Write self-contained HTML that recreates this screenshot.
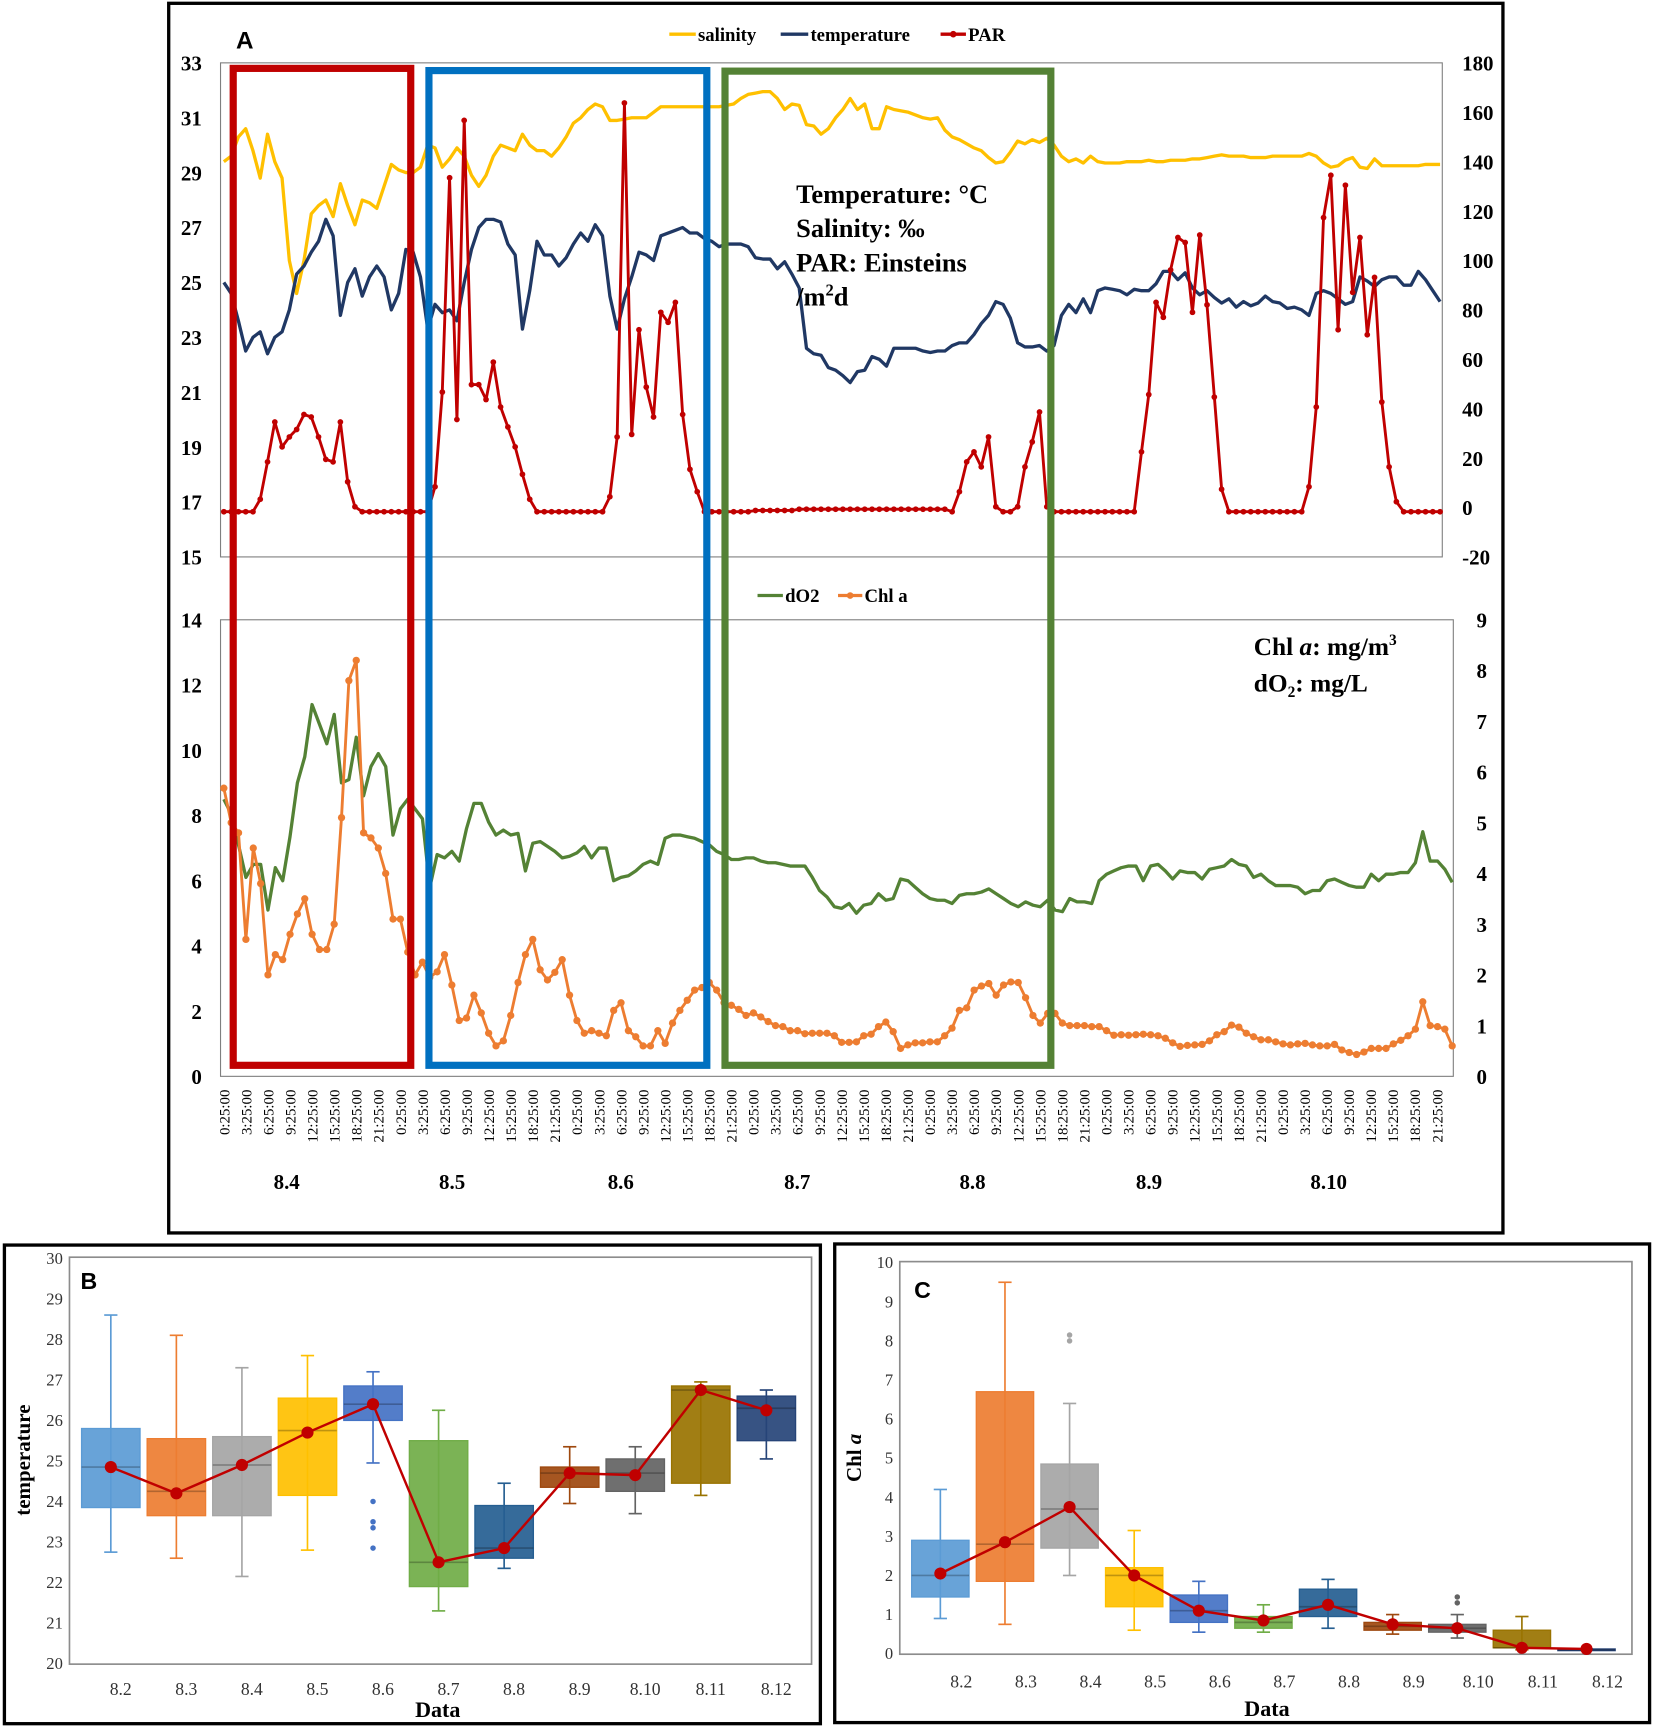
<!DOCTYPE html>
<html><head><meta charset="utf-8"><title>Figure</title>
<style>html,body{margin:0;padding:0;background:#fff}svg{display:block}</style></head>
<body>
<svg id="fig" xmlns="http://www.w3.org/2000/svg" width="1654" height="1727" viewBox="0 0 1500 1566" preserveAspectRatio="none" font-family="'Liberation Serif', serif">
<rect x="0" y="0" width="1500" height="1566" fill="#fff"/>
<rect x="153" y="3" width="1210" height="1115" fill="none" stroke="#000" stroke-width="3"/>
<rect x="4" y="1129" width="740" height="434" fill="none" stroke="#000" stroke-width="3"/>
<rect x="757" y="1128" width="739" height="434" fill="none" stroke="#000" stroke-width="3"/>
<g id="pa"></g><g id="pb"></g><g id="pc"></g>
</svg>
<script>
// ---------- Panel A data (hourly, 8.4 - 8.10) ----------
const salinity = [29.4,29.6,30.3,30.6,29.8,28.8,30.4,29.4,28.8,25.8,24.6,25.8,27.5,27.8,28.0,27.4,28.6,27.8,27.1,28.0,27.9,27.7,28.5,29.3,
29.1,29.0,29.0,29.2,30.0,29.9,29.2,29.5,29.9,29.6,28.9,28.5,28.9,29.6,30.0,29.9,29.8,30.4,30.0,29.8,29.8,29.6,29.9,30.3,
30.8,31.0,31.3,31.5,31.4,30.9,30.9,30.95,31.0,31.0,31.0,31.2,31.4,31.4,31.4,31.4,31.4,31.4,31.4,31.4,31.4,31.45,31.5,31.7,
31.85,31.9,31.95,31.95,31.7,31.3,31.5,31.45,30.75,30.7,30.4,30.6,31.0,31.3,31.7,31.3,31.5,30.6,30.6,31.4,31.3,31.25,31.2,31.1,
31.0,30.95,31.0,30.55,30.3,30.2,30.05,29.9,29.8,29.55,29.35,29.4,29.75,30.15,30.05,30.2,30.1,30.25,30.0,29.6,29.4,29.5,29.35,29.6,
29.4,29.35,29.35,29.35,29.4,29.4,29.4,29.45,29.4,29.4,29.45,29.45,29.45,29.5,29.5,29.55,29.6,29.65,29.6,29.6,29.6,29.55,29.55,29.55,
29.6,29.6,29.6,29.6,29.6,29.7,29.6,29.35,29.2,29.25,29.45,29.55,29.2,29.15,29.5,29.25,29.25,29.25,29.25,29.25,29.25,29.3,29.3,29.3];
const temperature = [25.0,24.6,23.6,22.5,23.0,23.2,22.4,23.0,23.2,24.0,25.3,25.6,26.1,26.5,27.3,26.7,23.8,25.0,25.5,24.5,25.2,25.6,25.2,24.0,
24.6,26.2,26.1,25.2,23.3,24.2,23.9,24.0,23.6,25.0,26.2,27.0,27.3,27.3,27.2,26.4,26.0,23.3,24.7,26.5,26.0,26.0,25.6,25.9,
26.4,26.8,26.5,27.1,26.7,24.5,23.3,24.4,25.2,26.1,26.0,25.8,26.7,26.8,26.9,27.0,26.8,26.8,26.6,26.5,26.3,26.4,26.4,26.4,
26.3,25.9,25.85,25.85,25.5,25.75,25.3,24.8,22.6,22.4,22.35,21.9,21.8,21.6,21.35,21.75,21.8,22.3,22.2,21.95,22.6,22.6,22.6,22.6,
22.5,22.45,22.5,22.5,22.7,22.8,22.8,23.1,23.5,23.8,24.3,24.2,23.7,22.8,22.65,22.65,22.7,22.5,22.7,23.8,24.2,23.9,24.4,23.9,
24.7,24.8,24.75,24.7,24.55,24.75,24.7,24.7,24.95,25.4,25.4,25.1,25.35,24.8,24.55,24.7,24.45,24.25,24.4,24.1,24.3,24.15,24.25,24.5,
24.3,24.25,24.05,24.1,24.0,23.8,24.6,24.7,24.6,24.4,24.2,24.3,25.2,25.05,24.85,25.1,25.2,25.2,24.9,24.9,25.4,25.1,24.7,24.3];
const par = [0,0,0,0,0,5,20,36,26,30,33,39,38,30,21,20,36,12,2,0,0,0,0,0,
0,0,0,0,0,10,48,134,37,157,51,51,45,60,42,34,26,15,5,0,0,0,0,0,
0,0,0,0,0,6,30,164,31,73,50,38,80,76,84,39,17,8,0,0,0,0,0,0,
0,0.5,0.5,0.5,0.5,0.5,0.5,1,1,1,1,1,1,1,1,1,1,1,1,1,1,1,1,1,
1,1,1,1,0,8,20,24,18,30,2,0,0,2,18,28,40,2,0,0,0,0,0,0,
0,0,0,0,0,0,24,47,84,78,97,110,108,80,111,83,46,9,0,0,0,0,0,0,
0,0,0,0,0,10,42,118,135,73,131,88,110,71,94,44,18,4,0,0,0,0,0,0];
const dO2 = [8.5,8.05,7.1,6.1,6.5,6.5,5.1,6.4,6.0,7.35,9.0,9.8,11.4,10.8,10.2,11.1,9.0,9.1,10.4,8.6,9.5,9.9,9.5,7.4,
8.2,8.5,8.2,7.9,5.8,6.8,6.7,6.9,6.6,7.6,8.37,8.37,7.8,7.4,7.55,7.4,7.45,6.3,7.15,7.2,7.05,6.9,6.7,6.75,
6.85,7.05,6.7,7.0,7.0,6.0,6.1,6.15,6.3,6.5,6.6,6.5,7.3,7.4,7.4,7.35,7.3,7.2,7.1,6.9,6.8,6.65,6.65,6.7,
6.7,6.6,6.55,6.55,6.5,6.45,6.45,6.45,6.1,5.7,5.5,5.2,5.15,5.3,5.0,5.25,5.3,5.6,5.4,5.45,6.05,6.0,5.8,5.6,
5.45,5.4,5.4,5.3,5.55,5.6,5.6,5.65,5.75,5.6,5.45,5.3,5.2,5.35,5.25,5.2,5.4,5.1,5.05,5.45,5.35,5.35,5.3,6.0,
6.2,6.3,6.4,6.45,6.45,6.0,6.45,6.5,6.3,6.05,6.3,6.25,6.25,6.05,6.35,6.4,6.45,6.65,6.5,6.45,6.1,6.2,6.0,5.85,
5.85,5.85,5.8,5.6,5.7,5.7,6.0,6.05,5.95,5.85,5.8,5.8,6.2,6.0,6.2,6.2,6.25,6.25,6.55,7.5,6.6,6.6,6.35,5.95];
const chlA = [5.68,5.0,4.8,2.7,4.5,3.8,2.0,2.4,2.3,2.8,3.2,3.5,2.8,2.5,2.5,3.0,5.1,7.8,8.2,4.8,4.7,4.5,4.0,3.1,
3.1,2.45,2.0,2.25,1.95,2.06,2.4,1.8,1.1,1.15,1.6,1.25,0.85,0.6,0.7,1.2,1.85,2.4,2.7,2.1,1.9,2.05,2.3,1.6,
1.1,0.85,0.9,0.85,0.8,1.3,1.45,0.9,0.78,0.6,0.6,0.9,0.65,1.05,1.3,1.5,1.7,1.75,1.85,1.7,1.45,1.4,1.32,1.2,
1.25,1.17,1.08,1.0,0.98,0.9,0.9,0.84,0.85,0.85,0.85,0.8,0.67,0.67,0.68,0.8,0.83,0.98,1.07,0.88,0.55,0.62,0.66,0.66,
0.68,0.68,0.8,0.95,1.3,1.35,1.7,1.78,1.83,1.6,1.8,1.86,1.85,1.55,1.2,1.05,1.24,1.24,1.05,1.0,1.0,1.0,0.98,0.98,
0.9,0.81,0.82,0.81,0.82,0.83,0.82,0.8,0.75,0.66,0.59,0.61,0.62,0.63,0.7,0.82,0.88,1.01,0.97,0.85,0.78,0.72,0.72,0.68,
0.64,0.62,0.64,0.65,0.62,0.6,0.6,0.63,0.52,0.47,0.43,0.48,0.55,0.55,0.55,0.64,0.71,0.8,0.93,1.47,1.0,0.98,0.93,0.6];
const leftTicksTop = [33,31,29,27,25,23,21,19,17,15];
const rightTicksTop = [180,160,140,120,100,80,60,40,20,0,-20];
const leftTicksBot = [14,12,10,8,6,4,2,0];
const rightTicksBot = [9,8,7,6,5,4,3,2,1,0];
const hourLabels = ["0:25:00","3:25:00","6:25:00","9:25:00","12:25:00","15:25:00","18:25:00","21:25:00"];
const dayLabels = ["8.4","8.5","8.6","8.7","8.8","8.9","8.10"];

// ---------- Panel B / C data ----------
const boxCats = ["8.2","8.3","8.4","8.5","8.6","8.7","8.8","8.9","8.10","8.11","8.12"];
const boxColors = ["#5B9BD5","#ED7D31","#A5A5A5","#FFC000","#4472C4","#70AD47","#255E91","#9E480E","#636363","#997300","#264478"];
const tMin = [22.75,22.6,22.15,22.8,24.95,21.3,22.35,23.95,23.7,24.15,25.05];
const tQ1 = [23.85,23.65,23.65,24.15,26.0,21.9,22.6,24.35,24.25,24.45,25.5];
const tMed = [24.85,24.25,24.9,25.75,26.4,22.5,22.85,24.7,24.7,26.75,26.3];
const tQ3 = [25.8,25.55,25.6,26.55,26.85,25.5,23.9,24.85,25.05,26.85,26.6];
const tMax = [28.6,28.1,27.3,27.6,27.2,26.25,24.45,25.35,25.35,26.95,26.75];
const tMean = [24.85,24.2,24.9,25.7,26.4,22.5,22.85,24.7,24.65,26.75,26.25];
const tOutliers = [[],[],[],[],[24.0,23.5,23.35,22.85],[],[],[],[],[],[]];
const cMin = [0.9,0.75,2.0,0.6,0.55,0.55,0.65,0.5,0.4,0.1,0.1];
const cQ1 = [1.45,1.85,2.7,1.2,0.8,0.65,0.95,0.6,0.55,0.15,0.1];
const cMed = [2.0,2.8,3.7,2.0,1.1,0.8,1.2,0.7,0.65,0.15,0.1];
const cQ3 = [2.9,6.7,4.85,2.2,1.5,0.95,1.65,0.8,0.75,0.6,0.12];
const cMax = [4.2,9.5,6.4,3.15,1.85,1.25,1.9,1.0,1.0,0.95,0.12];
const cMean = [2.05,2.85,3.75,2.0,1.1,0.85,1.25,0.75,0.65,0.15,0.12];
const cOutliers = [[],[],[8.0,8.15],[],[],[],[],[],[1.3,1.45],[],[]];
const bTicks = [30,29,28,27,26,25,24,23,22,21,20];
const cTicks = [10,9,8,7,6,5,4,3,2,1,0];

const NS = "http://www.w3.org/2000/svg";
function mk(parent, tag, attrs, txt){
  const e = document.createElementNS(NS, tag);
  for (const k in attrs) e.setAttribute(k, attrs[k]);
  if (txt !== undefined) e.textContent = txt;
  parent.appendChild(e);
  return e;
}
const N = 168;
const xTop = i => 203 + i * (1306 - 203) / (N - 1);
const xBot = i => 203 + i * (1317 - 203) / (N - 1);
const yL = v => 505 - (v - 15) * 24.89;
const yR = v => 464 - v * 2.26;
const yO = v => 976 - v * 29.57;
const yC = v => 976 - v * 46;

const pa = document.getElementById('pa');
let el;
el = mk(pa, 'rect', {x:200, y:57, width:1108, height:448, fill:'none', stroke:'#7f7f7f', 'stroke-width':1});


el = mk(pa, 'rect', {x:200, y:562, width:1118, height:414, fill:'none', stroke:'#7f7f7f', 'stroke-width':1});



leftTicksTop.forEach(t => {
  el = mk(pa, 'text', {x:183, y:yL(t)+7, 'text-anchor':'end', 'font-size':19, 'font-weight':'bold'}, String(t));
  
  
});
rightTicksTop.forEach(t => {
  el = mk(pa, 'text', {x:1326, y:505-(t+20)*2.24+7, 'font-size':19, 'font-weight':'bold'}, String(t));
  
  
});
leftTicksBot.forEach(t => {
  el = mk(pa, 'text', {x:183, y:yO(t)+7, 'text-anchor':'end', 'font-size':19, 'font-weight':'bold'}, String(t));
  
  
});
rightTicksBot.forEach(t => {
  el = mk(pa, 'text', {x:1339, y:yC(t)+7, 'font-size':19, 'font-weight':'bold'}, String(t));
  
  
});
for (let d = 0; d < dayLabels.length; d++) {
  hourLabels.forEach((h, k) => {
    const x = 203 + (d * 8 + k) * 20;
    el = mk(pa, 'text', {x:0, y:0, transform:`translate(${x+5},988) rotate(-90)`, 'text-anchor':'end', 'font-size':13.5}, h);
    
    
  });
}
const dayX = [260,410,563,723,882,1042,1205];
dayLabels.forEach((d, k) => {
  el = mk(pa, 'text', {x:dayX[k], y:1078, 'text-anchor':'middle', 'font-size':19, 'font-weight':'bold'}, d);
  
  
});

function linePath(arr, xf, yf){ return arr.map((v,i)=>(i?'L':'M')+xf(i).toFixed(1)+','+yf(v).toFixed(1)).join(''); }
el = mk(pa, 'path', {d:linePath(salinity, xTop, yL), fill:'none', stroke:'#FFC000', 'stroke-width':3, 'stroke-linejoin':'round'});


el = mk(pa, 'path', {d:linePath(temperature, xTop, yL), fill:'none', stroke:'#203864', 'stroke-width':3, 'stroke-linejoin':'round'});


el = mk(pa, 'path', {d:linePath(par, xTop, yR), fill:'none', stroke:'#C00000', 'stroke-width':2.6, 'stroke-linejoin':'round'});


par.forEach((v,i) => {
  el = mk(pa, 'circle', {cx:xTop(i), cy:yR(v), r:2.6, fill:'#C00000'});
  
  
});
el = mk(pa, 'path', {d:linePath(dO2, xBot, yO), fill:'none', stroke:'#548235', 'stroke-width':3, 'stroke-linejoin':'round'});


el = mk(pa, 'path', {d:linePath(chlA, xBot, yC), fill:'none', stroke:'#ED7D31', 'stroke-width':2.6, 'stroke-linejoin':'round'});


chlA.forEach((v,i) => {
  el = mk(pa, 'circle', {cx:xBot(i), cy:yC(v), r:3.3, fill:'#ED7D31'});
  
  
});

// highlight boxes
el = mk(pa, 'rect', {x:211.5, y:62, width:161, height:904, fill:'none', stroke:'#C00000', 'stroke-width':6.5});


el = mk(pa, 'rect', {x:389, y:64, width:252, height:902, fill:'none', stroke:'#0070C0', 'stroke-width':6.5});


el = mk(pa, 'rect', {x:657.5, y:64.5, width:295.5, height:901.5, fill:'none', stroke:'#548235', 'stroke-width':6.5});



// legends
function legendItem(g, x1, x2, y, color, dot, label, name){
  const grp = mk(g, 'g', {});
  
  
  mk(grp, 'line', {x1:x1, y1:y, x2:x2, y2:y, stroke:color, 'stroke-width':3});
  if (dot) mk(grp, 'circle', {cx:(x1+x2)/2, cy:y, r:3, fill:color});
  mk(grp, 'text', {x:x2+2, y:y+6, 'font-size':17, 'font-weight':'bold'}, label);
}
legendItem(pa, 607, 631, 31, '#FFC000', false, 'salinity', 'legend-salinity');
legendItem(pa, 708, 733, 31, '#203864', false, 'temperature', 'legend-temperature');
legendItem(pa, 853, 876, 31, '#C00000', true, 'PAR', 'legend-par');
legendItem(pa, 687, 710, 540, '#548235', false, 'dO2', 'legend-do2');
legendItem(pa, 760, 782, 540, '#ED7D31', true, 'Chl a', 'legend-chl-a');

el = mk(pa, 'text', {x:214, y:44, 'font-size':22, 'font-weight':'bold', 'font-family':"'Liberation Sans', sans-serif"}, 'A');


const ann = mk(pa, 'text', {x:722, y:184, 'font-size':24, 'font-weight':'bold'});


ann.innerHTML = '<tspan x="722" y="184">Temperature: °C</tspan><tspan x="722" y="215">Salinity: ‰</tspan><tspan x="722" y="246">PAR: Einsteins</tspan><tspan x="722" y="277">/m</tspan><tspan font-size="15" dy="-9">2</tspan><tspan dy="9">d</tspan>';
const ann2 = mk(pa, 'text', {x:1137, y:594, 'font-size':23, 'font-weight':'bold'});


ann2.innerHTML = '<tspan x="1137" y="594">Chl </tspan><tspan font-style="italic">a</tspan><tspan>: mg/m</tspan><tspan font-size="14" dy="-9">3</tspan><tspan x="1137" y="627">dO</tspan><tspan font-size="14" dy="5">2</tspan><tspan dy="-5">: mg/L</tspan>';

// ---------- box plot helper ----------
function boxPanel(g, o){
  const yf = v => o.y0 - (v - o.vmin) * o.k;
  el = mk(g, 'rect', {x:o.px, y:o.py, width:o.pw, height:o.ph, fill:'none', stroke:'#8c8c8c', 'stroke-width':1.5});
  
  
  o.ticks.forEach(t => {
    el = mk(g, 'text', {x:o.tickX, y:yf(t)+5, 'text-anchor':'end', 'font-size':15, fill:'#333'}, String(t));
    
    
  });
  o.cats.forEach((c, i) => {
    const cx = o.cx0 + i * o.step, w = o.bw;
    const col = boxColors[i];
    el = mk(g, 'line', {x1:cx, y1:yf(o.max[i]), x2:cx, y2:yf(o.min[i]), stroke:col, 'stroke-width':1.5});
    
    
    [o.max[i], o.min[i]].forEach(v => {
      el = mk(g, 'line', {x1:cx-6, y1:yf(v), x2:cx+6, y2:yf(v), stroke:col, 'stroke-width':1.5});
      
      
    });
    el = mk(g, 'rect', {x:cx-w/2, y:yf(o.q3[i]), width:w, height:Math.max(1.5, yf(o.q1[i])-yf(o.q3[i])), fill:col, 'fill-opacity':0.92, stroke:col, 'stroke-width':1.2});
    
    
    el = mk(g, 'line', {x1:cx-w/2, y1:yf(o.med[i]), x2:cx+w/2, y2:yf(o.med[i]), stroke:'#000', 'stroke-opacity':0.25, 'stroke-width':1.5});
    
    
    o.out[i].forEach(v => {
      el = mk(g, 'circle', {cx:cx, cy:yf(v), r:2.5, fill:col});
      
      
    });
    el = mk(g, 'text', {x:cx+o.lblOff, y:o.lblY, 'text-anchor':'middle', 'font-size':16, fill:'#333'}, c);
    
    
  });
  const d = o.mean.map((v,i)=>(i?'L':'M')+(o.cx0+i*o.step).toFixed(1)+','+yf(v).toFixed(1)).join('');
  el = mk(g, 'path', {d:d, fill:'none', stroke:'#C00000', 'stroke-width':2.2});
  
  
  o.mean.forEach((v,i) => {
    el = mk(g, 'circle', {cx:o.cx0+i*o.step, cy:yf(v), r:5.5, fill:'#C00000'});
    
    
  });
}
const pb = document.getElementById('pb');
boxPanel(pb, {name:'temperature', px:63, py:1140, pw:673, ph:369, y0:1508.5, vmin:20, k:36.75, ticks:bTicks, tickX:57,
  cats:boxCats, cx0:100.5, step:59.45, bw:53, min:tMin, q1:tQ1, med:tMed, q3:tQ3, max:tMax, mean:tMean, out:tOutliers, lblOff:9, lblY:1537});
el = mk(pb, 'text', {x:73, y:1169, 'font-size':21, 'font-weight':'bold', 'font-family':"'Liberation Sans', sans-serif"}, 'B');


el = mk(pb, 'text', {x:0, y:0, transform:'translate(27,1324) rotate(-90)', 'text-anchor':'middle', 'font-size':19, 'font-weight':'bold'}, 'temperature');


el = mk(pb, 'text', {x:397, y:1557, 'text-anchor':'middle', 'font-size':20, 'font-weight':'bold'}, 'Data');



const pc = document.getElementById('pc');
boxPanel(pc, {name:'chl', px:816, py:1144, pw:664, ph:356, y0:1499.5, vmin:0, k:35.45, ticks:cTicks, tickX:810,
  cats:boxCats, cx0:852.8, step:58.6, bw:52, min:cMin, q1:cQ1, med:cMed, q3:cQ3, max:cMax, mean:cMean, out:cOutliers, lblOff:19, lblY:1530});
el = mk(pc, 'text', {x:829, y:1177, 'font-size':21, 'font-weight':'bold', 'font-family':"'Liberation Sans', sans-serif"}, 'C');


const ct = mk(pc, 'text', {x:0, y:0, transform:'translate(781,1322) rotate(-90)', 'text-anchor':'middle', 'font-size':19, 'font-weight':'bold'});


ct.innerHTML = 'Chl <tspan font-style="italic">a</tspan>';
el = mk(pc, 'text', {x:1149, y:1556, 'text-anchor':'middle', 'font-size':20, 'font-weight':'bold'}, 'Data');


</script>
</body></html>
